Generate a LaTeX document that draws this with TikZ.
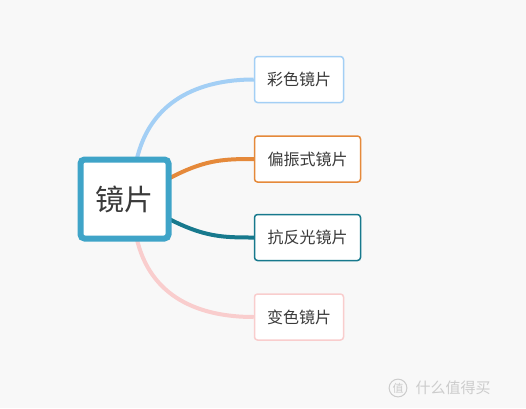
\documentclass[tikz,border=0pt]{standalone}
\usepackage{fontspec}
\newfontfamily\cjk{Noto Sans CJK SC}
\usetikzlibrary{backgrounds}

\definecolor{bgcol}{HTML}{F8F8F8}
\definecolor{rootcol}{HTML}{3FA4C8}
\definecolor{bluecol}{HTML}{A3CFF5}
\definecolor{orangecol}{HTML}{E5893A}
\definecolor{tealcol}{HTML}{17798D}
\definecolor{pinkcol}{HTML}{F9CDCD}
\definecolor{txtcol}{HTML}{3A3A3A}

\begin{document}
\begin{tikzpicture}[x=1pt,y=-1pt,
  leaf/.style={draw,rounded corners=3pt,line width=1.5pt,fill=white,
    minimum height=46pt,inner sep=0pt,text=txtcol,
    font=\cjk\fontsize{16}{18}\selectfont},
  branch/.style={line width=4pt}]

  \useasboundingbox (0,0) rectangle (526,408);

  \draw (124.5,199) node[draw=rootcol,line width=6pt,rounded corners=4pt,fill=white,
    minimum width=88pt,minimum height=79pt,inner sep=0pt,text=txtcol,
    font=\cjk\fontsize{29}{32}\selectfont] (root) {镜片};

  \draw (299,79.5) node[leaf,draw=bluecol,minimum width=89pt] (color) {彩色镜片};
  \draw (307.5,159) node[leaf,draw=orangecol,minimum width=106pt] (polar) {偏振式镜片};
  \draw (307.5,237.5) node[leaf,draw=tealcol,minimum width=106pt] (anti) {抗反光镜片};
  \draw (299,317) node[leaf,draw=pinkcol,minimum width=89pt] (photo) {变色镜片};

  \begin{scope}[on background layer]
    \fill[bgcol] (0,0) rectangle (526,408);
    \draw[branch,bluecol] ([xshift=12pt,yshift=-4pt]root.north) .. controls (150,100) and (200,79.5) .. (color.west);
    \draw[branch,orangecol] ([xshift=10pt]root.center) .. controls (195,160) and (215,159) .. (polar.west);
    \draw[branch,tealcol] ([xshift=10pt]root.center) .. controls (195,237) and (215,237.5) .. (anti.west);
    \draw[branch,pinkcol] ([xshift=12pt,yshift=4pt]root.south) .. controls (150,298) and (200,317) .. (photo.west);
  \end{scope}

  \draw (398,388) node[draw=black!20,circle,line width=1pt,inner sep=1pt,text=black!20,
    font=\cjk\fontsize{11}{12}\selectfont] (logo) {值};
  \draw ([xshift=8pt]logo.east) node[anchor=west,text=black!20,inner sep=0pt,
    font=\cjk\fontsize{15}{16}\selectfont] (mark) {什么值得买};

\end{tikzpicture}
\end{document}
